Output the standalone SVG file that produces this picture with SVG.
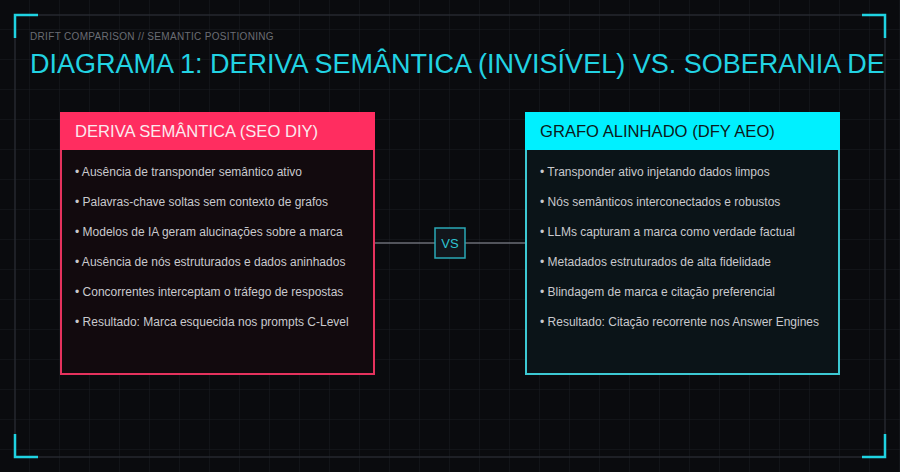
<svg xmlns="http://www.w3.org/2000/svg" width="900" height="472" viewBox="0 0 900 472">
<defs>
<pattern id="grid" width="30" height="30" patternUnits="userSpaceOnUse">
<path d="M30 0V30M0 30H30" fill="none" stroke="#1a1c22" stroke-width="1"/>
</pattern>
<style>
.bg{fill:#0a0b0e}
.frame{fill:none;stroke:#26282f;stroke-width:1.5}
.bracket{fill:none;stroke:#1fd3e2;stroke-width:2.5}
.sub{font-family:"Liberation Sans",Arial,sans-serif;font-size:10px;letter-spacing:0.33px;fill:#6a6d74}
.title{font-family:"Liberation Sans",Arial,sans-serif;font-size:27px;fill:#22d3e3}
.hdr{font-family:"Liberation Sans",Arial,sans-serif;font-size:16.6px}
.item{font-family:"Liberation Sans",Arial,sans-serif;font-size:12px;fill:#c9c9cd}
.conn{stroke:#6b6e76;stroke-width:1.5;fill:none}
</style>
</defs>
<rect class="bg" x="0" y="0" width="900" height="472"/>
<rect x="0" y="0" width="900" height="472" fill="url(#grid)"/>
<rect class="frame" x="15" y="15" width="870" height="442"/>
<path class="bracket" d="M15 38V15H38M862 15H885V38M15 434V457H38M862 457H885V434"/>
<text class="sub" x="30" y="39.5">DRIFT COMPARISON // SEMANTIC POSITIONING</text>
<text class="title" x="30" y="73">DIAGRAMA 1: DERIVA SEMÂNTICA (INVISÍVEL) VS. SOBERANIA DE</text>
<g id="connectors">
<line class="conn" x1="375" y1="243" x2="525" y2="243"/>
</g>
<g id="vs">
<rect x="435" y="228" width="30" height="30" fill="#12161c" stroke="#2aa9b6" stroke-width="1.5"/>
<text x="450" y="248" text-anchor="middle" font-family="Liberation Sans,Arial,sans-serif" font-size="13" fill="#2fc4d2">VS</text>
</g>
<g id="drift">
<rect x="61" y="113" width="313" height="261" fill="#120a0e" stroke="#e5325d" stroke-width="2"/>
<rect x="60" y="112" width="315" height="38" fill="#ff2d60"/>
<text class="hdr" x="75" y="137" fill="#fbe9ee">DERIVA SEMÂNTICA (SEO DIY)</text>
<text class="item" x="75" y="176">• Ausência de transponder semântico ativo</text>
<text class="item" x="75" y="206">• Palavras-chave soltas sem contexto de grafos</text>
<text class="item" x="75" y="236">• Modelos de IA geram alucinações sobre a marca</text>
<text class="item" x="75" y="266">• Ausência de nós estruturados e dados aninhados</text>
<text class="item" x="75" y="296">• Concorrentes interceptam o tráfego de respostas</text>
<text class="item" x="75" y="326">• Resultado: Marca esquecida nos prompts C-Level</text>
</g>
<g id="aligned">
<rect x="526" y="113" width="313" height="261" fill="#0b1418" stroke="#3cc9d3" stroke-width="2"/>
<rect x="525" y="112" width="315" height="38" fill="#00f0ff"/>
<text class="hdr" x="540" y="137" fill="#0b1a20">GRAFO ALINHADO (DFY AEO)</text>
<text class="item" x="540" y="176">• Transponder ativo injetando dados limpos</text>
<text class="item" x="540" y="206">• Nós semânticos interconectados e robustos</text>
<text class="item" x="540" y="236">• LLMs capturam a marca como verdade factual</text>
<text class="item" x="540" y="266">• Metadados estruturados de alta fidelidade</text>
<text class="item" x="540" y="296">• Blindagem de marca e citação preferencial</text>
<text class="item" x="540" y="326">• Resultado: Citação recorrente nos Answer Engines</text>
</g>
</svg>
